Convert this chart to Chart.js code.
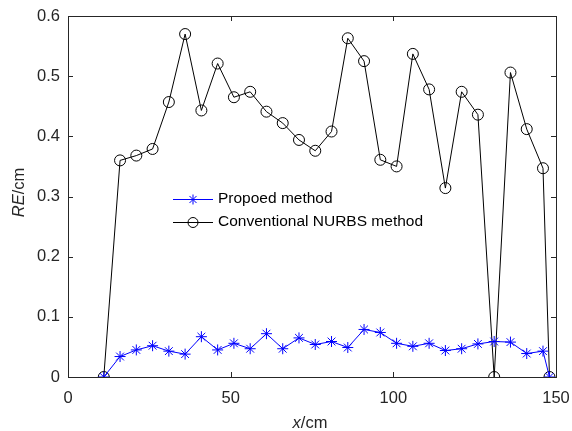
<!DOCTYPE html>
<html>
<head>
<meta charset="utf-8">
<script src="https://cdn.jsdelivr.net/npm/chart.js@4/dist/chart.umd.min.js"></script>
<style>
  html, body { margin: 0; padding: 0; background: #fff; }
  #wrap { width: 572px; height: 431px; position: relative; }
</style>
</head>
<body>
<div id="wrap"><canvas id="rechart"></canvas></div>
<script>
// x positions (cm)
var xs = [11, 16, 21, 26, 31, 36, 41, 46, 51, 56, 61, 66, 71, 76, 81, 86, 91, 96, 101, 106, 111, 116, 121, 126, 131, 136, 141, 146, 148];
// RE values
var proposed = [0, 0.034, 0.045, 0.052, 0.043, 0.038, 0.067, 0.045, 0.056, 0.047, 0.072, 0.047, 0.065, 0.054, 0.059, 0.049, 0.079, 0.074, 0.056, 0.051, 0.056, 0.044, 0.047, 0.055, 0.059, 0.058, 0.039, 0.043, 0];
var conventional = [0, 0.360, 0.368, 0.379, 0.457, 0.570, 0.443, 0.521, 0.465, 0.474, 0.441, 0.422, 0.394, 0.376, 0.408, 0.563, 0.525, 0.361, 0.350, 0.537, 0.478, 0.314, 0.474, 0.436, 0, 0.506, 0.412, 0.347, 0];
var xTicks = [0, 50, 100, 150];
var yTicks = [0, 0.1, 0.2, 0.3, 0.4, 0.5, 0.6];
var seriesNames = ['Propoed method', 'Conventional NURBS method'];

var axisColor = '#262626';
var fontFam = '"Liberation Sans", Arial, sans-serif';

function pts(xv, yv) {
  return xv.map(function (x, i) { return {x: x, y: yv[i]}; });
}

function drawMarker(c, style, x, y, r, color) {
  c.save();
  c.strokeStyle = color;
  c.lineWidth = 1;
  c.beginPath();
  if (style === 'circle') {
    c.arc(x, y, r, 0, Math.PI * 2);
  } else {
    var d = r * Math.SQRT1_2;
    c.moveTo(x - r, y); c.lineTo(x + r, y);
    c.moveTo(x, y - r); c.lineTo(x, y + r);
    c.moveTo(x - d, y - d); c.lineTo(x + d, y + d);
    c.moveTo(x - d, y + d); c.lineTo(x + d, y - d);
  }
  c.stroke();
  c.restore();
}

// box, inward ticks, legend and axis titles
var decor = {
  id: 'decor',
  afterDraw: function (chart) {
    var c = chart.ctx, a = chart.chartArea;
    var sx = chart.scales.x, sy = chart.scales.y;
    c.save();
    c.strokeStyle = axisColor;
    c.lineWidth = 1;
    c.strokeRect(Math.round(a.left) + 0.5, Math.round(a.top) + 0.5, Math.round(a.right - a.left), Math.round(a.bottom - a.top));
    c.beginPath();
    xTicks.forEach(function (v) {
      var px = Math.round(sx.getPixelForValue(v)) + 0.5;
      c.moveTo(px, a.bottom); c.lineTo(px, a.bottom - 5);
      c.moveTo(px, a.top); c.lineTo(px, a.top + 5);
    });
    yTicks.forEach(function (v) {
      var py = Math.round(sy.getPixelForValue(v)) + 0.5;
      c.moveTo(a.left, py); c.lineTo(a.left + 5, py);
      c.moveTo(a.right, py); c.lineTo(a.right - 5, py);
    });
    c.stroke();

    // legend
    c.font = '15.5px ' + fontFam;
    c.textBaseline = 'middle';
    c.fillStyle = '#000';
    chart.data.datasets.forEach(function (ds, i) {
      var ly = 199 + i * 23;
      c.strokeStyle = ds.borderColor;
      c.lineWidth = 1;
      c.beginPath(); c.moveTo(173, ly + 0.5); c.lineTo(213, ly + 0.5); c.stroke();
      drawMarker(c, ds.pointStyle, 193, ly + 0.5, 5, ds.borderColor);
      c.fillText(seriesNames[i], 218, ly);
    });

    // axis titles (italic symbol + upright unit)
    c.fillStyle = axisColor;
    c.textBaseline = 'alphabetic';
    var fi = 'italic 16.5px ' + fontFam, fn = '16.5px ' + fontFam;
    c.font = fi; var w1 = c.measureText('x').width;
    c.font = fn; var w2 = c.measureText('/cm').width;
    var cx = (a.left + a.right) / 2 - 2;
    var x0 = cx - (w1 + w2) / 2;
    c.font = fi; c.fillText('x', x0, 428);
    c.font = fn; c.fillText('/cm', x0 + w1, 428);

    c.translate(24, (a.top + a.bottom) / 2 - 4);
    c.rotate(-Math.PI / 2);
    c.font = fi; w1 = c.measureText('RE').width;
    c.font = fn; w2 = c.measureText('/cm').width;
    x0 = -(w1 + w2) / 2;
    c.font = fi; c.fillText('RE', x0, 0);
    c.font = fn; c.fillText('/cm', x0 + w1, 0);
    c.restore();
  }
};

var config = {
  type: 'line',
  data: {
    datasets: [{
      label: seriesNames[0],
      data: pts(xs, proposed),
      borderColor: '#0000ff',
      backgroundColor: 'transparent',
      borderWidth: 1,
      pointStyle: 'star',
      pointRadius: 5.5,
      pointBorderWidth: 1,
      pointBorderColor: '#0000ff',
      tension: 0
    }, {
      label: seriesNames[1],
      data: pts(xs, conventional),
      borderColor: '#000000',
      backgroundColor: 'transparent',
      borderWidth: 1,
      pointStyle: 'circle',
      pointRadius: 5.5,
      pointBorderWidth: 1,
      pointBackgroundColor: 'transparent',
      pointBorderColor: '#000000',
      tension: 0
    }]
  },
  options: {
    responsive: false,
    animation: false,
    devicePixelRatio: 1,
    layout: {padding: {left: 0, right: 16, top: 16, bottom: 0}},
    plugins: {legend: {display: false}, tooltip: {enabled: false}},
    scales: {
      x: {
        type: 'linear', min: 0, max: 150,
        afterFit: function (s) { s.height = 54; s.paddingLeft = 0; s.paddingRight = 0; },
        afterBuildTicks: function (s) { s.ticks = xTicks.map(function (v) { return {value: v}; }); },
        grid: {display: false, drawTicks: false},
        border: {display: false},
        ticks: {padding: 12, color: axisColor, font: {family: fontFam, size: 16.5}, maxRotation: 0}
      },
      y: {
        type: 'linear', min: 0, max: 0.6,
        afterFit: function (s) { s.width = 68; s.paddingTop = 0; s.paddingBottom = 0; },
        afterBuildTicks: function (s) { s.ticks = yTicks.map(function (v) { return {value: v}; }); },
        grid: {display: false, drawTicks: false},
        border: {display: false},
        ticks: {padding: 8, color: axisColor, font: {family: fontFam, size: 16.5},
          callback: function (v) { return String(Math.round(v * 10) / 10); }}
      }
    }
  },
  plugins: [decor]
};

var cv = document.getElementById('rechart');
cv.width = 572; cv.height = 431;
var chart = new Chart(cv, config);
</script>
</body>
</html>
